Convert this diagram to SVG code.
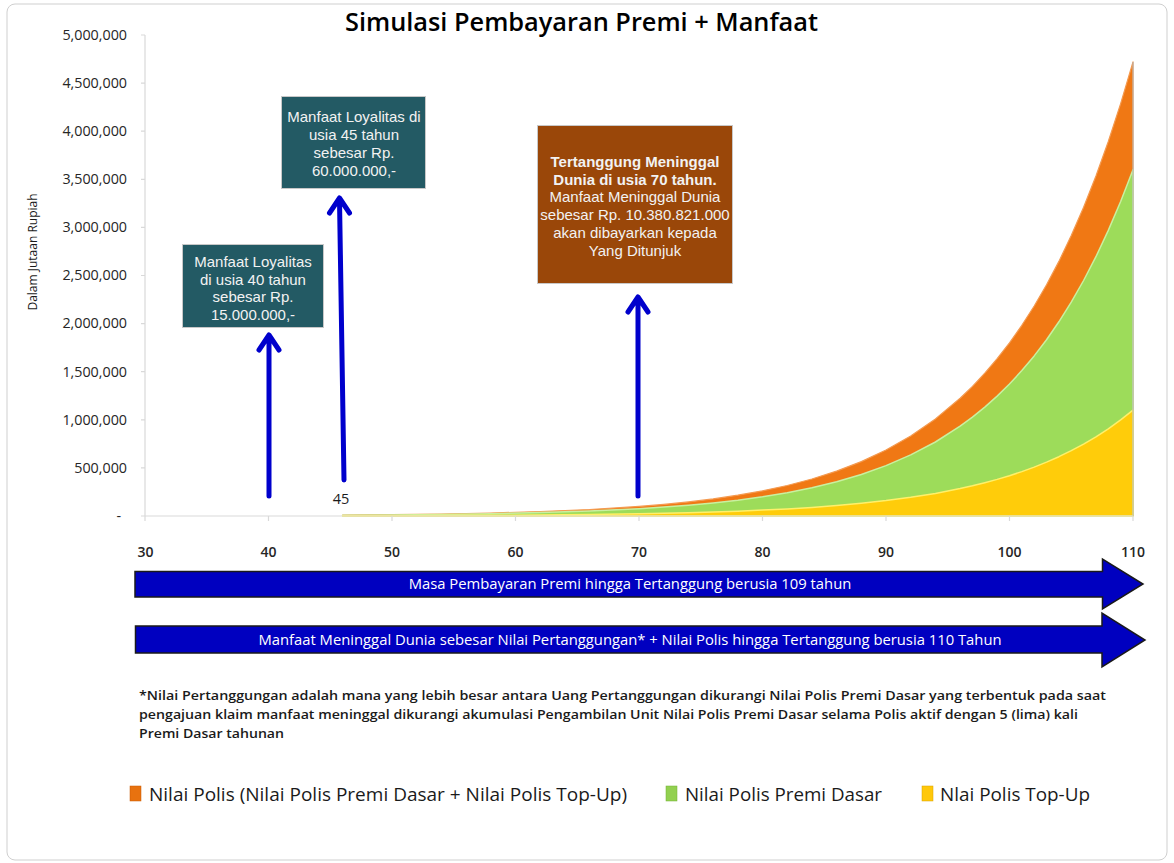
<svg xmlns="http://www.w3.org/2000/svg" width="1174" height="863" viewBox="0 0 1174 863">
<style>
text{font-family:"Open Sans","Noto Sans","Liberation Sans",sans-serif;}
.ylab{font-size:14.3px;fill:#262626;text-anchor:end;}
.xlab{font-size:14px;font-weight:600;fill:#262626;text-anchor:middle;}
.axis{stroke:#d9d9d9;stroke-width:1.2;fill:none;}
.box1{fill:#235a64;stroke:#c8c8c8;stroke-width:1;}
.box2{fill:#9a4709;stroke:#c8c8c8;stroke-width:1;}
.btxt{font-family:"Liberation Sans",Arial,sans-serif;font-size:15px;fill:#f2f2f2;text-anchor:middle;}
.band{fill:#0000c0;stroke:#1a1a1a;stroke-width:1.5;}
.bandtxt{font-size:14.8px;fill:#ffffff;text-anchor:middle;}
.conn{stroke:#0000cc;stroke-width:5;fill:none;stroke-linecap:round;stroke-linejoin:round;}
.note{font-size:13px;font-weight:600;fill:#1a1a1a;}
.leg{font-size:17.5px;fill:#1a1a1a;}
</style>
<rect x="7" y="4" width="1160" height="856" rx="8" fill="#ffffff" stroke="#cfcfcf" stroke-width="1"/>
<text x="581.5" y="31" font-size="25" font-weight="600" text-anchor="middle" fill="#000" textLength="473" lengthAdjust="spacingAndGlyphs">Simulasi Pembayaran Premi + Manfaat</text>
<text transform="translate(37,252) rotate(-90)" font-size="12" text-anchor="middle" fill="#1a1a1a">Dalam Jutaan Rupiah</text>
<g id="yaxis">
<path class="axis" d="M145,35V516M141,35H145M141,83.1H145M141,131.2H145M141,179.3H145M141,227.4H145M141,275.5H145M141,323.6H145M141,371.7H145M141,419.8H145M141,467.9H145M141,516H145"/>
<text class="ylab" x="127" y="40">5,000,000</text>
<text class="ylab" x="127" y="88">4,500,000</text>
<text class="ylab" x="127" y="136">4,000,000</text>
<text class="ylab" x="127" y="184">3,500,000</text>
<text class="ylab" x="127" y="232">3,000,000</text>
<text class="ylab" x="127" y="280">2,500,000</text>
<text class="ylab" x="127" y="328">2,000,000</text>
<text class="ylab" x="127" y="377">1,500,000</text>
<text class="ylab" x="127" y="425">1,000,000</text>
<text class="ylab" x="127" y="473">500,000</text>
<text class="ylab" x="121" y="521">-</text>
</g>
<g id="series">
<polygon fill="#f07814" stroke="#f49a50" stroke-width="1.2" stroke-linejoin="round" points="342.6,516 342.6,515.0 392,514.6 441.4,514.0 490.8,513.0 540.2,511.5 589.6,509.5 639,506.4 663.7,504.4 688.4,501.9 713.1,498.9 737.8,495.2 762.5,490.8 787.2,485.5 811.9,479.0 836.6,471.1 861.3,461.6 886,450.0 910.7,435.9 935.4,418.9 960.1,398.3 972.45,386.4 984.8,373.2 997.15,358.7 1009.5,342.8 1021.85,325.3 1034.2,306.0 1046.55,284.8 1058.9,261.4 1071.25,235.6 1083.6,207.2 1095.95,176.0 1108.3,141.5 1120.65,103.6 1133,61.9 1133,516"/>
<polygon fill="#9ddc5a" stroke="#c9f0a0" stroke-width="1.5" stroke-linejoin="round" points="342.6,516 342.6,515.3 392,514.9 441.4,514.4 490.8,513.7 540.2,512.6 589.6,511.0 639,508.7 663.7,507.1 688.4,505.2 713.1,502.9 737.8,500.2 762.5,496.8 787.2,492.7 811.9,487.8 836.6,481.8 861.3,474.5 886,465.6 910.7,454.9 935.4,442.0 960.1,426.2 972.45,417.1 984.8,407.1 997.15,396.1 1009.5,384.0 1021.85,370.6 1034.2,355.9 1046.55,339.7 1058.9,321.8 1071.25,302.2 1083.6,280.5 1095.95,256.7 1108.3,230.4 1120.65,201.5 1133,169.7 1133,516"/>
<polygon fill="#ffcc0a" stroke="#fff06a" stroke-width="1.5" stroke-linejoin="round" points="342.6,516 342.6,515.8 392,515.7 441.4,515.5 490.8,515.3 540.2,515.0 589.6,514.5 639,513.8 663.7,513.3 688.4,512.7 713.1,512.0 737.8,511.2 762.5,510.1 787.2,508.9 811.9,507.4 836.6,505.5 861.3,503.3 886,500.6 910.7,497.3 935.4,493.4 960.1,488.6 972.45,485.8 984.8,482.7 997.15,479.4 1009.5,475.7 1021.85,471.6 1034.2,467.1 1046.55,462.1 1058.9,456.7 1071.25,450.7 1083.6,444.1 1095.95,436.8 1108.3,428.8 1120.65,419.9 1133,410.2 1133,516"/>
<line x1="1133" y1="62" x2="1133" y2="516" stroke="#b0b0b0" stroke-width="1"/>
</g>
<g id="xaxis">
<path class="axis" d="M145,516H1133M145,516V521M268.5,516V521M392,516V521M515.5,516V521M639,516V521M762.5,516V521M886,516V521M1009.5,516V521M1133,516V521"/>
<text class="xlab" x="145.5" y="557">30</text>
<text class="xlab" x="268.5" y="557">40</text>
<text class="xlab" x="392" y="557">50</text>
<text class="xlab" x="515.5" y="557">60</text>
<text class="xlab" x="639" y="557">70</text>
<text class="xlab" x="762.5" y="557">80</text>
<text class="xlab" x="886" y="557">90</text>
<text class="xlab" x="1009.5" y="557">100</text>
<text class="xlab" x="1133" y="557">110</text>
</g>
<g id="connectors">
<path class="conn" d="M269,496V337M259,350L269,335L279,350"/>
<path class="conn" d="M344,480L339.5,200M329.5,213L339.5,198L349.5,213"/>
<path class="conn" d="M638,496V299M628,312L638,297L648,312"/>
</g>
<text x="341" y="504" font-size="14.5" fill="#1a1a1a" text-anchor="middle">45</text>
<g id="box-loyalitas-40">
<rect class="box1" x="182.5" y="244.5" width="141" height="83"/>
<text class="btxt" x="253" y="267">Manfaat Loyalitas</text>
<text class="btxt" x="253" y="284.5">di usia 40 tahun</text>
<text class="btxt" x="253" y="302">sebesar Rp.</text>
<text class="btxt" x="253" y="319.5">15.000.000,-</text>
</g>
<g id="box-loyalitas-45">
<rect class="box1" x="281.5" y="96.5" width="144" height="92"/>
<text class="btxt" x="354" y="122">Manfaat Loyalitas di</text>
<text class="btxt" x="354" y="140">usia 45 tahun</text>
<text class="btxt" x="354" y="158">sebesar Rp.</text>
<text class="btxt" x="354" y="175.5">60.000.000,-</text>
</g>
<g id="box-meninggal">
<rect class="box2" x="537.5" y="125.5" width="195" height="158"/>
<text class="btxt" x="635" y="167" font-weight="bold">Tertanggung Meninggal</text>
<text class="btxt" x="635" y="184.5" font-weight="bold">Dunia di usia 70 tahun.</text>
<text class="btxt" x="635" y="202">Manfaat Meninggal Dunia</text>
<text class="btxt" x="635" y="220">sebesar Rp. 10.380.821.000</text>
<text class="btxt" x="635" y="238">akan dibayarkan kepada</text>
<text class="btxt" x="635" y="255.5">Yang Ditunjuk</text>
</g>
<g id="band-premi">
<path class="band" d="M135,571.5H1102.5V559L1143,584L1102.5,609V597H135Z"/>
<text class="bandtxt" x="630" y="589">Masa Pembayaran Premi hingga Tertanggung berusia 109 tahun</text>
</g>
<g id="band-manfaat">
<path class="band" d="M135.5,626H1102V613L1145,640L1102,667V653H135.5Z"/>
<text class="bandtxt" x="630" y="645">Manfaat Meninggal Dunia sebesar Nilai Pertanggungan* + Nilai Polis hingga Tertanggung berusia 110 Tahun</text>
</g>
<g id="footnote">
<text class="note" x="139" y="700" textLength="967" lengthAdjust="spacingAndGlyphs">*Nilai Pertanggungan adalah mana yang lebih besar antara Uang Pertanggungan dikurangi Nilai Polis Premi Dasar yang terbentuk pada saat</text>
<text class="note" x="139" y="719" textLength="939" lengthAdjust="spacingAndGlyphs">pengajuan klaim manfaat meninggal dikurangi akumulasi Pengambilan Unit Nilai Polis Premi Dasar selama Polis aktif dengan 5 (lima) kali</text>
<text class="note" x="139" y="738" textLength="145" lengthAdjust="spacingAndGlyphs">Premi Dasar tahunan</text>
</g>
<g id="legend">
<rect x="130" y="786" width="11" height="15" fill="#e8720f" stroke="#c85a00" stroke-width="0.5"/>
<text class="leg" x="149" y="801" textLength="478" lengthAdjust="spacingAndGlyphs">Nilai Polis (Nilai Polis Premi Dasar + Nilai Polis Top-Up)</text>
<rect x="666" y="786" width="11" height="15" fill="#92d050" stroke="#70b030" stroke-width="0.5"/>
<text class="leg" x="685" y="801" textLength="197" lengthAdjust="spacingAndGlyphs">Nilai Polis Premi Dasar</text>
<rect x="922" y="786" width="11" height="15" fill="#ffc80a" stroke="#d8a000" stroke-width="0.5"/>
<text class="leg" x="940" y="801" textLength="150" lengthAdjust="spacingAndGlyphs">Nlai Polis Top-Up</text>
</g>
</svg>
